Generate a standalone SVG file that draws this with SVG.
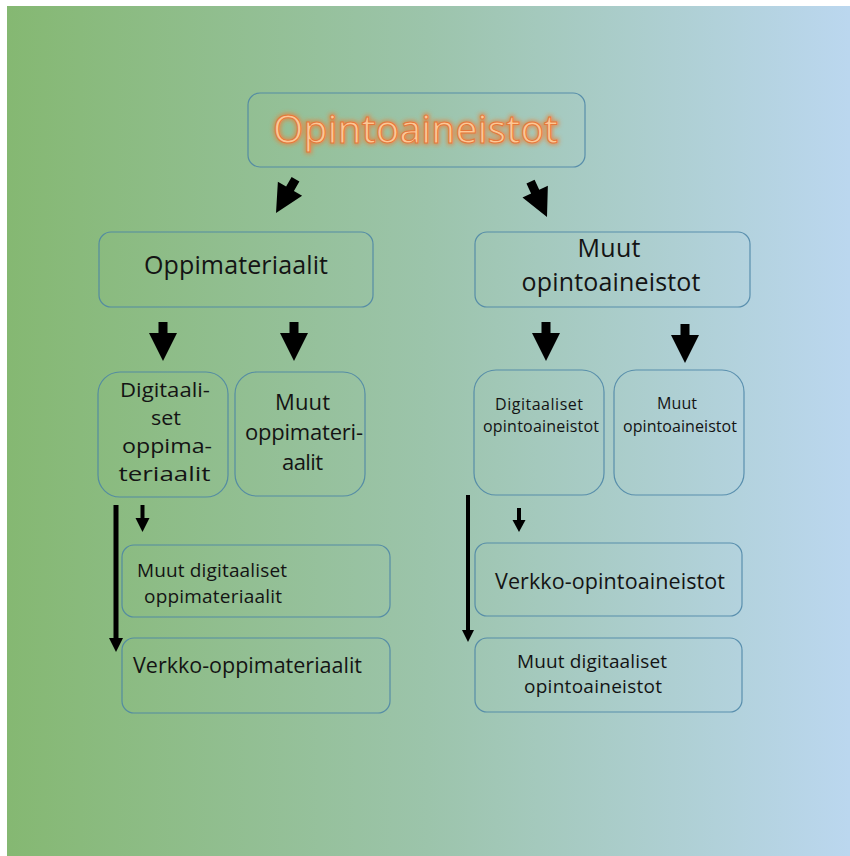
<svg xmlns="http://www.w3.org/2000/svg" width="850" height="856" viewBox="0 0 850 856">
<defs>
<linearGradient id="bg" x1="0" y1="0" x2="1" y2="0">
<stop offset="0" stop-color="#85b872"/>
<stop offset="0.5" stop-color="#9cc4ab"/>
<stop offset="1" stop-color="#bbd7ef"/>
</linearGradient>
<filter id="glow" x="-10%" y="-40%" width="120%" height="180%">
<feGaussianBlur stdDeviation="2"/>
</filter>
<path id="blk" d="M-4.5,-39 H4.5 V-28 H14 L0,0 L-14,-28 H-4.5 Z"/>
</defs>
<style>
.box{fill:none;stroke:#4a84a6;stroke-width:1.2;stroke-opacity:0.85}
text{font-family:"Open Sans","Noto Sans","Liberation Sans",sans-serif;fill:#141414;text-anchor:middle}
.arr{fill:#000}
.ln{stroke:#000;fill:none}
</style>
<rect x="7" y="6" width="843" height="850" fill="url(#bg)"/>

<g id="connectors">
<use href="#blk" class="arr" transform="translate(276,213) rotate(30)"/>
<use href="#blk" class="arr" transform="translate(547,217) rotate(-25)"/>
<use href="#blk" class="arr" transform="translate(163,361)"/>
<use href="#blk" class="arr" transform="translate(294,361)"/>
<use href="#blk" class="arr" transform="translate(546,361)"/>
<use href="#blk" class="arr" transform="translate(685,363)"/>
<line class="ln" x1="116" y1="505" x2="116" y2="640" stroke-width="5"/>
<path class="arr" d="M109,638 H123 L116,652 Z"/>
<line class="ln" x1="142.5" y1="505" x2="142.5" y2="520" stroke-width="4"/>
<path class="arr" d="M135.5,518 H149.5 L142.5,532 Z"/>
<line class="ln" x1="468" y1="495" x2="468" y2="632" stroke-width="4"/>
<path class="arr" d="M462,630 H474 L468,642 Z"/>
<line class="ln" x1="519" y1="508" x2="519" y2="522" stroke-width="4"/>
<path class="arr" d="M512.5,520 H525.5 L519,532 Z"/>
</g>

<g id="n-opintoaineistot">
<rect class="box" x="248" y="93" width="337" height="74" rx="12"/>
<text x="415.5" y="143" font-size="39" textLength="285" style="fill:none;stroke:#f07a30;stroke-width:4;stroke-opacity:0.7" filter="url(#glow)">Opintoaineistot</text>
<text x="415.5" y="143" font-size="39" textLength="285" style="fill:#fcc896;stroke:#e6783a;stroke-width:1">Opintoaineistot</text>
</g>

<g id="n-oppimateriaalit">
<rect class="box" x="99" y="232" width="274" height="75" rx="12"/>
<text x="236" y="274" font-size="25" textLength="184">Oppimateriaalit</text>
</g>

<g id="n-muut-opintoaineistot">
<rect class="box" x="475" y="232" width="275" height="75" rx="12"/>
<text x="609" y="257" font-size="25" textLength="63">Muut</text>
<text x="611" y="291" font-size="25" textLength="179">opintoaineistot</text>
</g>

<g id="n-digitaaliset-oppimateriaalit">
<rect class="box" x="98" y="372" width="130" height="125" rx="22"/>
<text x="165" y="397" font-size="20.5" textLength="90" lengthAdjust="spacingAndGlyphs">Digitaali-</text>
<text x="166" y="425" font-size="20.5" textLength="30" lengthAdjust="spacingAndGlyphs">set</text>
<text x="167" y="453" font-size="20.5" textLength="90" lengthAdjust="spacingAndGlyphs">oppima-</text>
<text x="164.5" y="481" font-size="20.5" textLength="92" lengthAdjust="spacingAndGlyphs">teriaalit</text>
</g>

<g id="n-muut-oppimateriaalit">
<rect class="box" x="235" y="372" width="130" height="124" rx="22"/>
<text x="302.5" y="410" font-size="22" textLength="55">Muut</text>
<text x="304" y="440" font-size="22" textLength="118">oppimateri-</text>
<text x="302.5" y="470" font-size="22" textLength="41">aalit</text>
</g>

<g id="n-digitaaliset-opintoaineistot">
<rect class="box" x="474" y="370" width="130" height="125" rx="22"/>
<text x="539" y="410" font-size="16" textLength="88">Digitaaliset</text>
<text x="541" y="432" font-size="16" textLength="116">opintoaineistot</text>
</g>

<g id="n-muut-opintoaineistot-2">
<rect class="box" x="614" y="370" width="130" height="125" rx="22"/>
<text x="677" y="409" font-size="16" textLength="40">Muut</text>
<text x="680" y="432" font-size="16" textLength="114">opintoaineistot</text>
</g>

<g id="n-muut-digitaaliset-oppimateriaalit">
<rect class="box" x="122" y="545" width="268" height="72" rx="12"/>
<text x="212" y="577" font-size="19" textLength="150">Muut digitaaliset</text>
<text x="213" y="603" font-size="19" textLength="138">oppimateriaalit</text>
</g>

<g id="n-verkko-oppimateriaalit">
<rect class="box" x="122" y="638" width="268" height="75" rx="12"/>
<text x="247.5" y="673" font-size="21.5" textLength="229">Verkko-oppimateriaalit</text>
</g>

<g id="n-verkko-opintoaineistot">
<rect class="box" x="475" y="543" width="267" height="73" rx="12"/>
<text x="610" y="589" font-size="21.5" textLength="230">Verkko-opintoaineistot</text>
</g>

<g id="n-muut-digitaaliset-opintoaineistot">
<rect class="box" x="475" y="638" width="267" height="74" rx="12"/>
<text x="592" y="668" font-size="19" textLength="150">Muut digitaaliset</text>
<text x="593" y="693" font-size="19" textLength="138">opintoaineistot</text>
</g>
</svg>
